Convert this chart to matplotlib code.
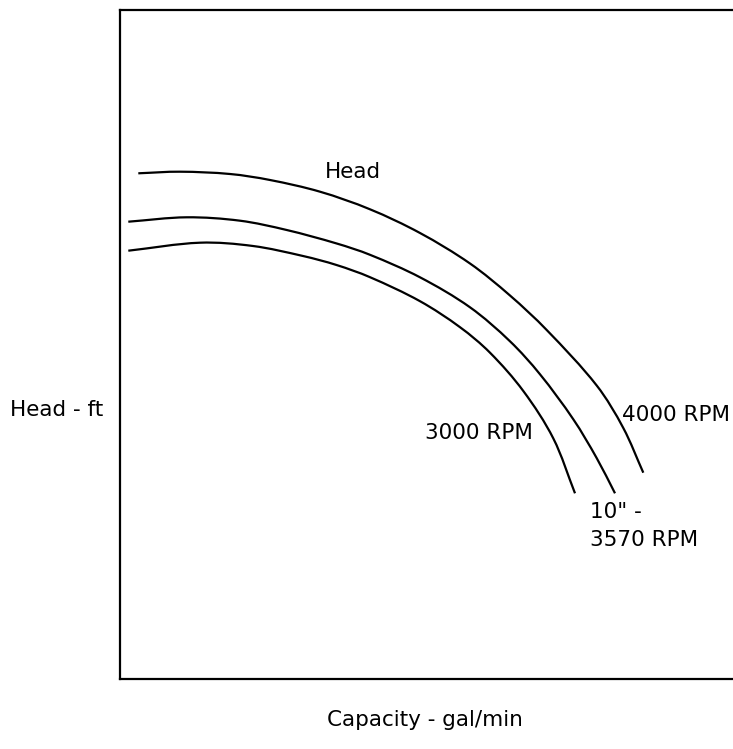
import matplotlib
matplotlib.use("Agg")
import matplotlib.pyplot as plt
import numpy as np
from matplotlib.path import Path
from matplotlib.patches import PathPatch

# Pump curves (capacity in gal/min, head in ft; the chart shows no scale)
cap_4000 = [36.6, 120, 220, 300, 400, 500, 600, 700, 780, 853.4, 953.4, 1006.6, 1046.6]
head_4000 = [252.85, 253.65, 252.5, 249.5, 243.65, 234.85, 223, 207.75, 191.75, 174.5, 146.75, 125.5, 103.15]

cap_3570 = [16.6, 133.4, 240, 333.4, 433.4, 500, 600, 700, 780, 840, 906.6, 953.4, 990]
head_3570 = [228.65, 230.85, 229.15, 224.5, 217.75, 212.1, 200.85, 185.85, 168.85, 152.35, 129.85, 110.45, 92.85]

cap_3000 = [16.6, 160, 266, 366, 433, 500, 600, 680, 740, 806.6, 866.6, 910]
head_3000 = [214.15, 218.15, 216.5, 211.5, 207, 200.9, 188.9, 175.9, 163.15, 144, 120.3, 92.85]


def smooth_path(xs, ys):
    # cubic Bezier segments through the read points (Catmull-Rom style handles)
    p = np.column_stack([xs, ys]).astype(float)
    verts = [p[0]]
    codes = [Path.MOVETO]
    n = len(p)
    for i in range(n - 1):
        p0 = p[max(i - 1, 0)]
        p1, p2 = p[i], p[i + 1]
        p3 = p[min(i + 2, n - 1)]
        seg = np.linalg.norm(p2 - p1)
        t1 = (p2 - p0) / np.linalg.norm(p2 - p0)
        t2 = (p3 - p1) / np.linalg.norm(p3 - p1)
        c1 = p1 + t1 * seg / 3
        c2 = p2 - t2 * seg / 3
        verts += [c1, c2, p2]
        codes += [Path.CURVE4] * 3
    return Path(verts, codes)


W, H = 733, 749
fig = plt.figure(figsize=(W / 100, H / 100), dpi=100)
ax = fig.add_axes([120 / W, (H - 679) / H, 1 - 120 / W, (679 - 10) / H])

ax.set_xlim(0, (W - 120) * 2)
ax.set_ylim(0, (679 - 10) / 2)

for c, h in [(cap_4000, head_4000), (cap_3570, head_3570), (cap_3000, head_3000)]:
    # handles are built in pixel space so the curve shape is not skewed by the aspect
    pts = ax.transData.transform(np.column_stack([c, h]))
    path = smooth_path(pts[:, 0], pts[:, 1])
    ax.add_patch(PathPatch(path, transform=None, facecolor="none",
                           edgecolor="black", lw=1.6, capstyle="butt"))

ax.set_xticks([])
ax.set_yticks([])
ax.spines["right"].set_visible(False)
for s in ["left", "top", "bottom"]:
    ax.spines[s].set_linewidth(1.6)

fs = 15.5
ax.text(466, 253.5, "Head", fontsize=fs, ha="center", va="center")
ax.text(1004, 132, "4000 RPM", fontsize=fs, ha="left", va="center")
ax.text(610, 123, "3000 RPM", fontsize=fs, ha="left", va="center")
ax.text(940, 83.5, '10" -', fontsize=fs, ha="left", va="center")
ax.text(940, 69.5, "3570 RPM", fontsize=fs, ha="left", va="center")

fig.text(10 / W, 1 - 410 / H, "Head - ft", fontsize=fs, ha="left", va="center")
fig.text(425 / W, 1 - 720 / H, "Capacity - gal/min", fontsize=fs, ha="center", va="center")

fig.savefig("out.png", dpi=100)
